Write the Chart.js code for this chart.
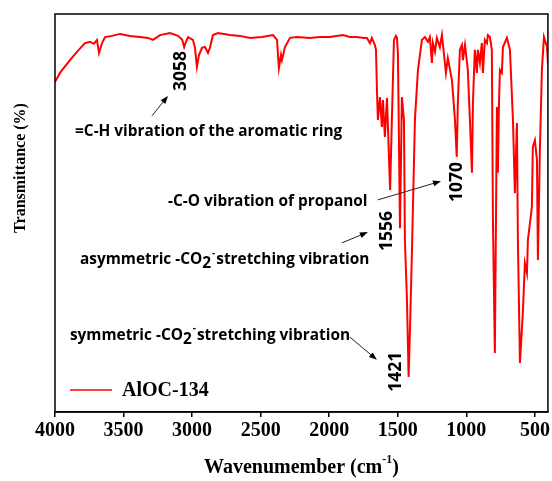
<!DOCTYPE html>
<html>
<head>
<meta charset="utf-8">
<script src="https://cdn.jsdelivr.net/npm/chart.js@4/dist/chart.umd.min.js"></script>
<style>
  html, body { margin: 0; padding: 0; background: #fff; }
  #wrap { width: 552px; height: 481px; }
</style>
</head>
<body>
<div id="wrap"><canvas id="ftir" width="552" height="481"></canvas></div>
<script>
// FTIR spectrum of AlOC-134 (wavenumber in cm-1, transmittance in arbitrary %)
const seriesName = 'AlOC-134';

const wavenumbers = [
  4000, 3964, 3891, 3840, 3781, 3745, 3716, 3694, 3679, 3657,
  3635, 3584, 3526, 3453, 3380, 3322, 3285, 3234, 3161, 3103,
  3072, 3058, 3045, 3030, 2994, 2979, 2965, 2950, 2928, 2906,
  2884, 2870, 2848, 2811, 2724, 2651, 2578, 2491, 2410, 2381,
  2367, 2352, 2345, 2323, 2286, 2235, 2141, 2068, 1995, 1900,
  1849, 1798, 1747, 1725, 1703, 1689, 1667, 1659, 1652, 1645,
  1630, 1616, 1608, 1594, 1579, 1556, 1543, 1528, 1514, 1506,
  1499, 1484, 1470, 1455, 1448, 1433, 1421, 1411, 1397, 1375,
  1353, 1324, 1302, 1280, 1266, 1251, 1244, 1229, 1215, 1193,
  1178, 1164, 1149, 1135, 1105, 1083, 1070, 1062, 1047, 1032,
  1025, 1010, 989, 974, 959, 952, 938, 923, 916, 901,
  887, 879, 865, 850, 843, 828, 814, 806, 792, 777,
  770, 762, 755, 741, 733, 704, 682, 660, 646, 631,
  624, 609, 588, 573, 558, 551, 522, 515, 500, 485,
  478, 464, 449, 434, 412, 405
];

const transmittance = [
  82.9, 85.2, 88.4, 90.5, 92.7, 93.0, 92.5, 93.5, 90.2, 92.7,
  94.2, 94.5, 95.0, 94.5, 94.2, 94.0, 93.5, 94.7, 95.2, 94.5,
  93.5, 91.7, 93.0, 94.2, 93.5, 91.5, 86.7, 89.7, 91.5, 91.7,
  90.2, 91.5, 94.7, 95.2, 94.7, 94.5, 94.0, 94.2, 94.7, 93.5,
  86.4, 89.7, 88.4, 91.7, 94.0, 94.2, 94.0, 94.2, 94.2, 94.7,
  94.2, 94.2, 94.0, 94.0, 92.7, 94.0, 92.2, 91.0, 80.9, 73.4,
  79.1, 71.6, 78.4, 69.1, 78.9, 55.8, 73.4, 93.5, 94.5, 94.0,
  90.2, 46.2, 79.1, 73.4, 43.2, 28.1, 8.8, 20.6, 40.0, 73.4,
  85.9, 93.5, 94.2, 93.0, 94.2, 87.7, 92.7, 90.5, 94.0, 91.7,
  94.7, 90.2, 85.2, 88.9, 83.4, 73.4, 64.1, 77.6, 91.0, 92.2,
  88.4, 92.2, 85.9, 73.4, 60.1, 77.6, 91.0, 85.2, 91.0, 87.7,
  92.7, 85.2, 93.5, 92.7, 94.7, 94.2, 91.0, 48.2, 14.8, 76.6,
  60.1, 77.6, 85.9, 85.2, 91.7, 94.0, 91.0, 73.4, 55.0, 72.6,
  43.2, 12.3, 24.9, 37.4, 34.9, 43.2, 51.5, 66.6, 68.3, 63.3,
  38.2, 65.1, 85.9, 94.2, 91.7, 87.7
];

const xTicks = [4000, 3500, 3000, 2500, 2000, 1500, 1000, 500];

// Band assignments
const peakLabels = ['3058', '1556', '1070', '1421'];
const bandNotes = [
  ['=C-H vibration of the aromatic ring'],
  ['-C-O vibration of propanol'],
  ['asymmetric -CO', '2', '-', 'stretching vibration'],
  ['symmetric -CO', '2', '-', 'stretching vibration']
];

const xTitle = ['Wavenumember (cm', '-1', ')'];
const yTitle = 'Transmittance (%)';

// ---------------------------------------------------------------------------
const RED = '#ff0000';
const SANS = '"Open Sans", "Noto Sans", sans-serif';
const SERIF = '"Liberation Serif", "Times New Roman", serif';

// anchor points in data space (wavenumber, transmittance)
const peakAnchors = [[3089, 85.7], [1586, 45.5], [1076, 57.8], [1521, 10.1]];
const noteAnchors = [[3854, 70.4], [3176, 52.8], [3818, 38.2], [3891, 19.3]];
const arrows = [
  [[3293, 74.4], [3176, 79.4]],
  [[1645, 53.3], [1185, 58.0]],
  [[1907, 42.5], [1718, 45.2]],
  [[1849, 18.8], [1652, 13.1]]
];

function drawArrow(ctx, x0, y0, x1, y1) {
  const ang = Math.atan2(y1 - y0, x1 - x0);
  const head = 8, half = 3;
  ctx.beginPath();
  ctx.moveTo(x0, y0);
  ctx.lineTo(x1 - Math.cos(ang) * head * 0.8, y1 - Math.sin(ang) * head * 0.8);
  ctx.stroke();
  ctx.beginPath();
  ctx.moveTo(x1, y1);
  ctx.lineTo(x1 - Math.cos(ang) * head - Math.sin(ang) * half, y1 - Math.sin(ang) * head + Math.cos(ang) * half);
  ctx.lineTo(x1 - Math.cos(ang) * head + Math.sin(ang) * half, y1 - Math.sin(ang) * head - Math.cos(ang) * half);
  ctx.closePath();
  ctx.fill();
}

const decorations = {
  id: 'decorations',
  afterDraw(chart) {
    const { ctx, chartArea: a, scales: { x, y } } = chart;
    const px = v => x.getPixelForValue(v);
    const py = v => y.getPixelForValue(v);
    ctx.save();

    // plot frame
    ctx.strokeStyle = '#000';
    ctx.lineWidth = 1.5;
    ctx.strokeRect(a.left, a.top, a.right - a.left, a.bottom - a.top);

    // rotated peak positions
    ctx.fillStyle = '#000';
    ctx.font = 'bold 17.5px ' + SANS;
    ctx.textAlign = 'center';
    ctx.textBaseline = 'middle';
    peakLabels.forEach((t, i) => {
      const [w, v] = peakAnchors[i];
      ctx.save();
      ctx.translate(px(w), py(v));
      ctx.rotate(-Math.PI / 2);
      ctx.fillText(t, 0, 1);
      ctx.restore();
    });

    // band descriptions (with sub/superscripts)
    ctx.textAlign = 'left';
    const noteFont = 'bold 15.4px ' + SANS;
    bandNotes.forEach((parts, i) => {
      let cx = px(noteAnchors[i][0]);
      const cy = py(noteAnchors[i][1]);
      parts.forEach((p, j) => {
        if (parts.length > 1 && j === 1) {
          ctx.font = noteFont;
          ctx.fillText(p, cx, cy + 4);
          cx += ctx.measureText(p).width + 1;
        } else if (parts.length > 1 && j === 2) {
          ctx.font = 'bold 10px ' + SANS;
          ctx.fillText(p, cx, cy - 7);
          cx += ctx.measureText(p).width + 1;
        } else {
          ctx.font = noteFont;
          ctx.fillText(p, cx, cy);
          cx += ctx.measureText(p).width;
        }
      });
    });

    // arrows
    ctx.lineWidth = 1;
    ctx.strokeStyle = '#222';
    ctx.fillStyle = '#000';
    arrows.forEach(([p0, p1]) => drawArrow(ctx, px(p0[0]), py(p0[1]), px(p1[0]), py(p1[1])));

    // legend
    const ly = a.bottom - 22;
    ctx.strokeStyle = RED;
    ctx.lineWidth = 1.5;
    ctx.beginPath();
    ctx.moveTo(a.left + 15, ly);
    ctx.lineTo(a.left + 57, ly);
    ctx.stroke();
    ctx.fillStyle = '#000';
    ctx.font = 'bold 20px ' + SERIF;
    ctx.textBaseline = 'middle';
    ctx.fillText(chart.data.datasets[0].label, a.left + 67, ly + 1);

    // axis titles
    const xc = (a.left + a.right) / 2;
    const tY = 468;
    ctx.font = 'bold 20px ' + SERIF;
    const w0 = ctx.measureText(xTitle[0]).width;
    const w2 = ctx.measureText(xTitle[2]).width;
    ctx.font = 'bold 12px ' + SERIF;
    const w1 = ctx.measureText(xTitle[1]).width;
    let sx = xc - (w0 + w1 + w2) / 2;
    ctx.font = 'bold 20px ' + SERIF;
    ctx.fillText(xTitle[0], sx, tY);
    ctx.font = 'bold 12px ' + SERIF;
    ctx.fillText(xTitle[1], sx + w0, tY - 8);
    ctx.font = 'bold 20px ' + SERIF;
    ctx.fillText(xTitle[2], sx + w0 + w1, tY);

    ctx.save();
    ctx.translate(21, 168);
    ctx.rotate(-Math.PI / 2);
    ctx.textAlign = 'center';
    ctx.font = 'bold 16px ' + SERIF;
    ctx.fillText(yTitle, 0, 0);
    ctx.restore();

    ctx.restore();
  }
};

new Chart(document.getElementById('ftir'), {
  type: 'line',
  data: {
    datasets: [{
      label: seriesName,
      data: wavenumbers.map((w, i) => ({ x: w, y: transmittance[i] })),
      borderColor: RED,
      borderWidth: 2,
      pointRadius: 0,
      tension: 0,
      fill: false
    }]
  },
  options: {
    responsive: false,
    animation: false,
    devicePixelRatio: 1,
    layout: { padding: { left: 55, top: 14, right: 4, bottom: 0 } },
    plugins: { legend: { display: false }, tooltip: { enabled: false } },
    scales: {
      x: {
        type: 'linear',
        reverse: true,
        min: 405,
        max: 4000,
        afterBuildTicks: s => { s.ticks = xTicks.map(v => ({ value: v })); },
        afterFit: s => { s.height = 69; },
        ticks: {
          color: '#000',
          padding: 2,
          maxRotation: 0,
          autoSkip: false,
          callback: v => String(v),
          font: { family: SERIF, size: 20, weight: 'bold' }
        },
        grid: { drawOnChartArea: false, drawTicks: true, tickLength: 5, color: '#000', lineWidth: 1.5 },
        border: { display: true, color: '#000', width: 1.5 }
      },
      y: {
        display: false,
        min: 0,
        max: 100
      }
    }
  },
  plugins: [decorations]
});
</script>
</body>
</html>
